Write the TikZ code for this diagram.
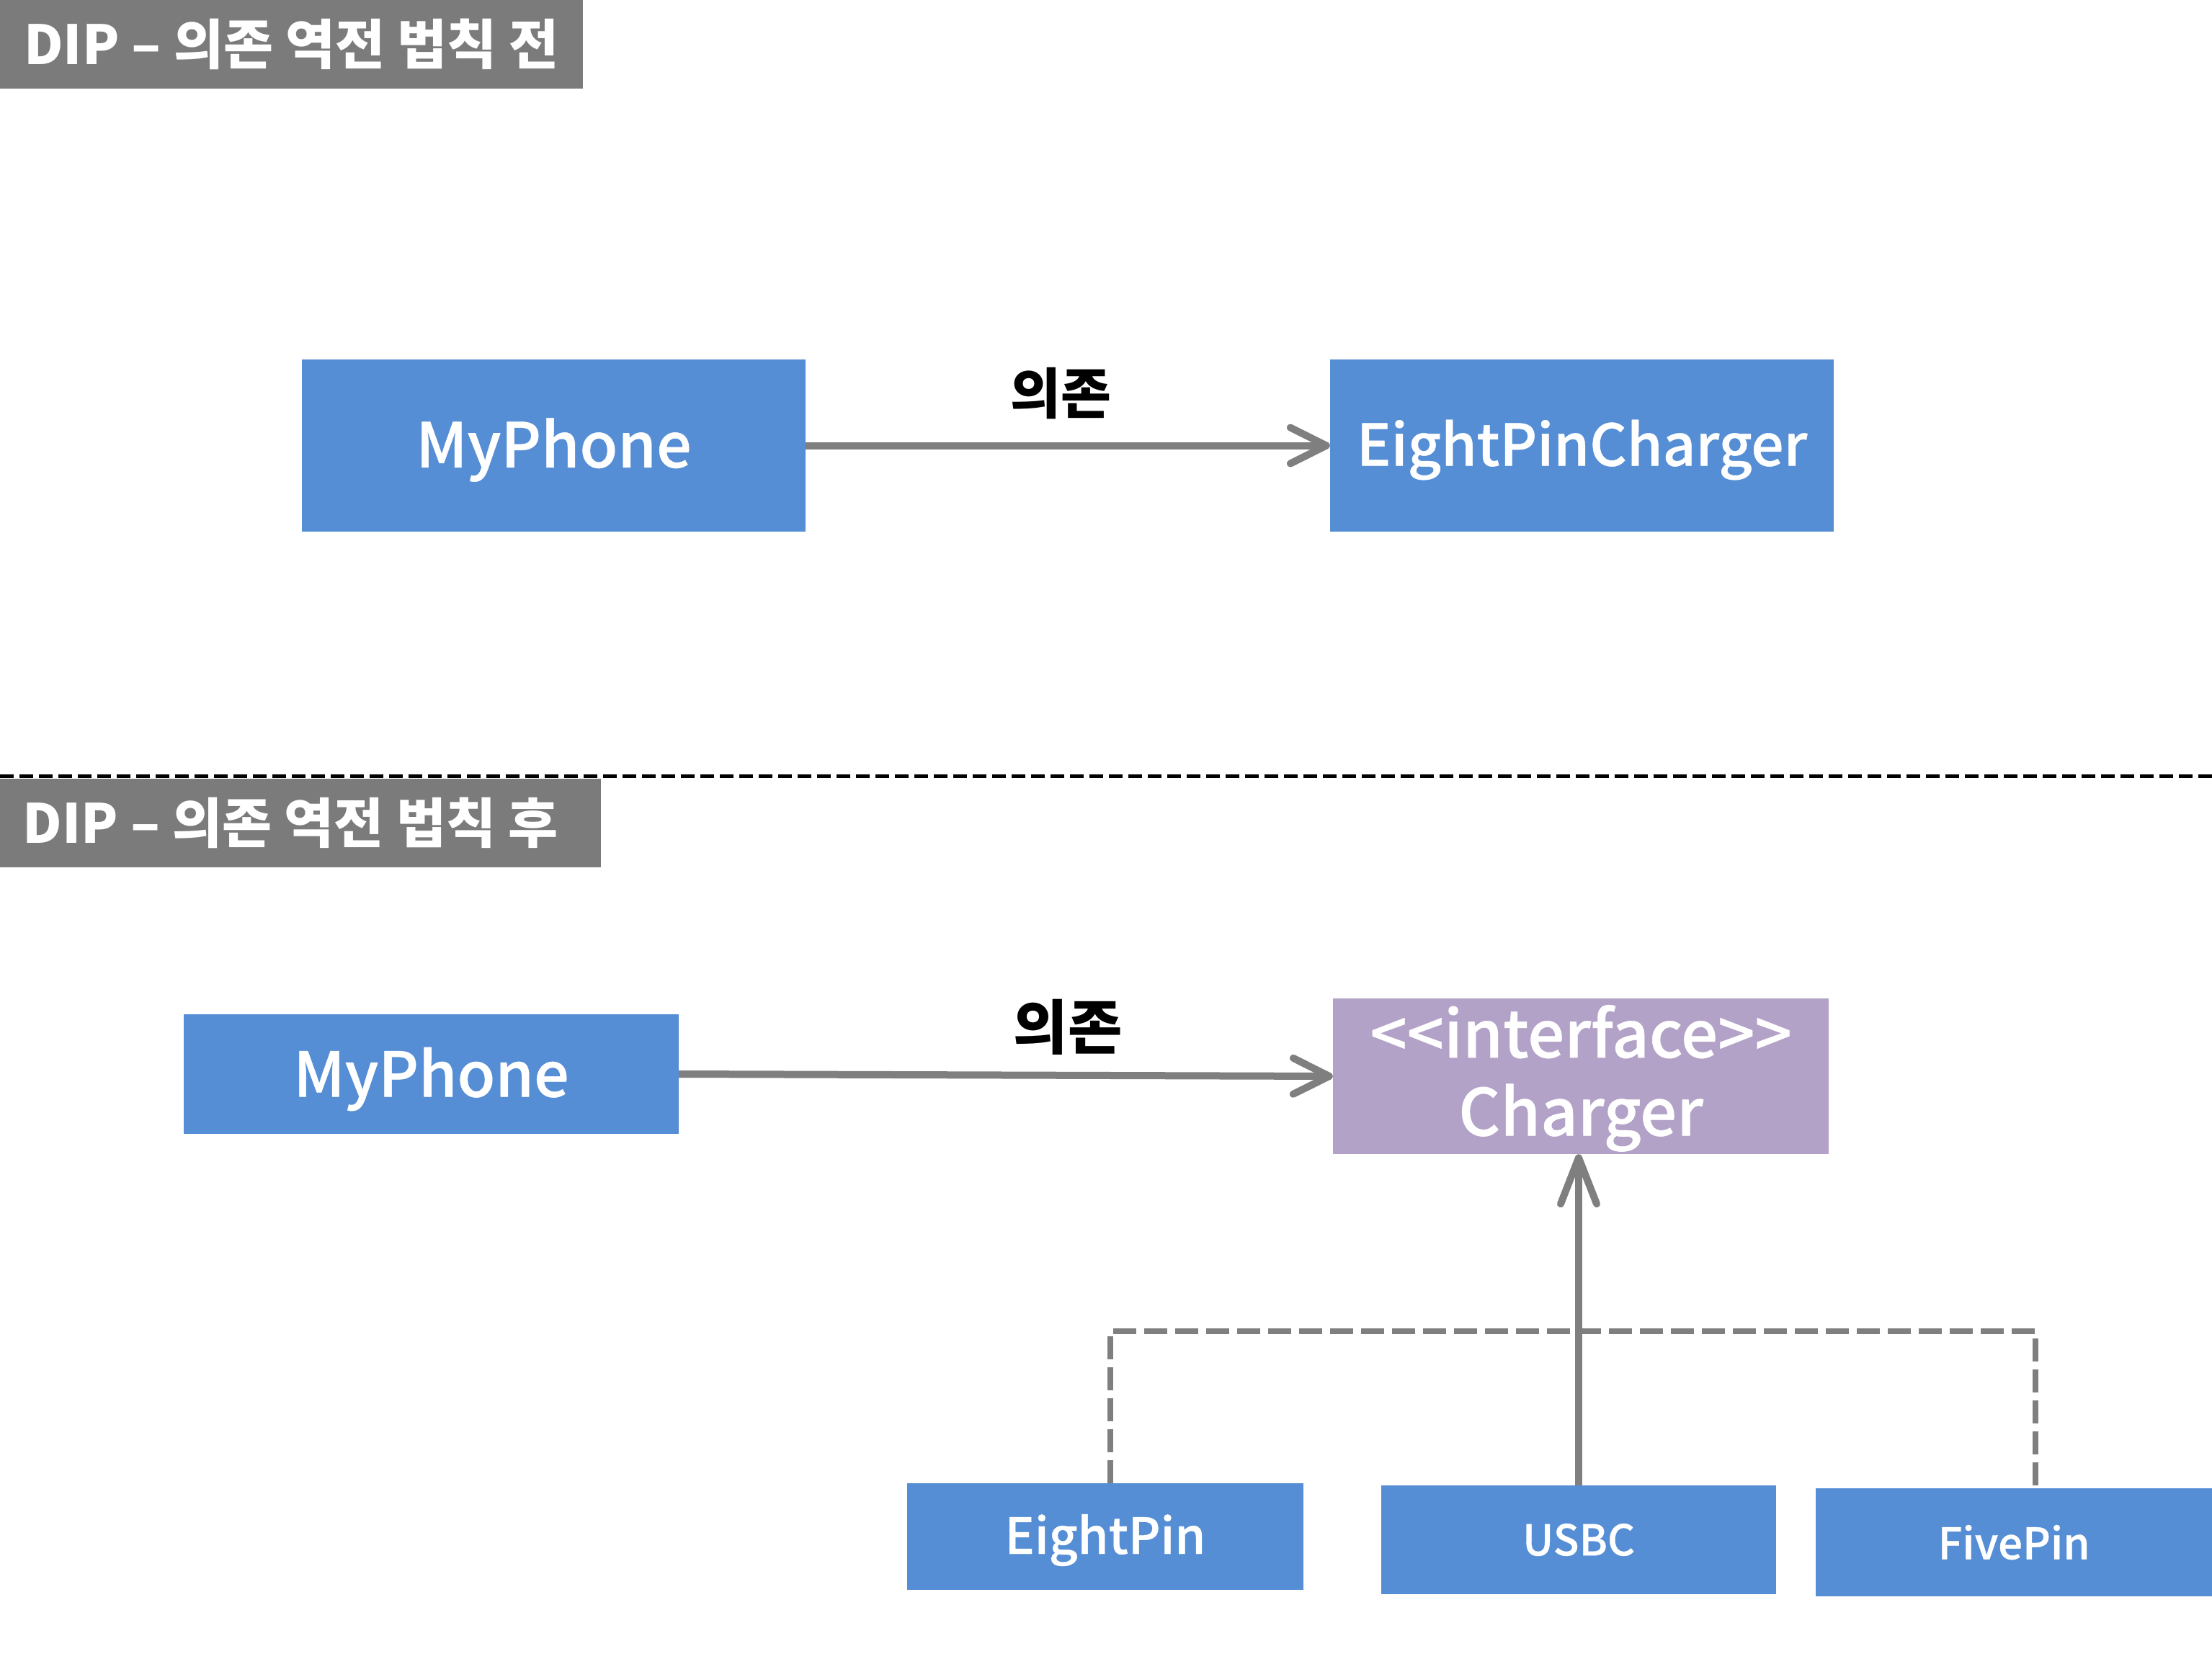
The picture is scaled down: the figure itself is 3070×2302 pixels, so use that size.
\documentclass[tikz,border=0pt]{standalone}
\usepackage{fontspec}
\setmainfont{Noto Sans CJK KR}
\newfontfamily\medfont[FakeBold=0.6]{Noto Sans CJK KR Medium}
\usetikzlibrary{arrows.meta}
\definecolor{boxblue}{RGB}{85,142,213}
\definecolor{boxpurple}{RGB}{179,162,199}
\definecolor{titlegray}{RGB}{123,123,123}
\definecolor{linegray}{RGB}{127,127,127}
\newcommand{\lowertext}[2]{\raisebox{-#1}[\height][\depth]{#2}}
\tikzset{
  titlebox/.style={fill=titlegray, text=white, inner sep=0pt, font=\fontsize{75}{84}\selectfont\bfseries},
  clsbox/.style={fill=boxblue, text=white, inner sep=0pt, align=center},
  ifbox/.style={fill=boxpurple, text=white, inner sep=0pt, align=center, font=\fontsize{90}{102}\medfont},
  deparrow/.style={draw=linegray, line width=10pt, -{Straight Barb[length=50pt,width=50pt,line cap=round,line join=round]}},
  uparrow/.style={draw=linegray, line width=10pt, -{Straight Barb[length=64pt,width=50pt,line cap=round,line join=round]}},
  implline/.style={draw=linegray, line width=8pt, dash pattern=on 32pt off 11pt},
  deplabel/.style={text=black, font=\fontsize{76}{90}\selectfont\bfseries},
}
\begin{document}
\begin{tikzpicture}[x=1pt,y=-1pt]
\useasboundingbox (0,0) rectangle (3070,2302);
\fill[white] (0,0) rectangle (3070,2302);
% titles
\node[titlebox, minimum width=809pt, minimum height=123pt] (t1) at (404.5,61.5) {DIP -- 의존 역전 법칙 전};
\node[titlebox, minimum width=834pt, minimum height=123pt] (t2) at (417,1142.5) {DIP -- 의존 역전 법칙 후\hspace*{28pt}};
% separator
\coordinate (sepL) at (0,1077);
\coordinate (sepR) at (3070,1077);
\draw[black, line width=5pt, dash pattern=on 19pt off 8pt] (sepL) -- (sepR);
% before
\node[clsbox, minimum width=699pt, minimum height=239pt, font=\fontsize{86}{100}\medfont] (mp1) at (768.5,618.5) {\lowertext{6pt}{MyPhone}};
\node[clsbox, minimum width=699pt, minimum height=239pt, font=\fontsize{80}{100}\medfont] (epc) at (2195.5,618.5) {\lowertext{6pt}{EightPinCharger}};
\draw[deparrow] (mp1.east) -- (epc.west);
\node[deplabel] (l1) at (1472,546) {의존};
% after
\node[clsbox, minimum width=687pt, minimum height=166pt, font=\fontsize{86}{100}\medfont] (mp2) at (598.5,1491) {\lowertext{7pt}{MyPhone}};
\node[ifbox, minimum width=688pt, minimum height=216pt] (chg) at (2194,1494) {\lowertext{7pt}{\begin{tabular}{@{}c@{}}<\kern0pt<interface>\kern0pt>\\[6pt]Charger\end{tabular}}};
\draw[deparrow] (mp2.east) -- (chg.west);
\node[deplabel, font=\fontsize{82}{90}\selectfont\bfseries] (l2) at (1482,1426) {의존};
\node[clsbox, minimum width=550pt, minimum height=148pt, font=\fontsize{69}{80}\medfont] (ep) at (1534,2133) {\lowertext{5pt}{EightPin}};
\node[clsbox, minimum width=548pt, minimum height=151pt, font=\fontsize{59}{70}\medfont] (usbc) at (2191,2137.5) {USBC};
\node[clsbox, minimum width=550pt, minimum height=150pt, font=\fontsize{60}{72}\medfont] (fp) at (2795,2141) {FivePin};
\coordinate (bus) at (0,1848);
\coordinate (fpjoin) at (2825,2066);
\draw[implline] (ep.north -| 1541,0) -- (bus -| 1541,0) -- (bus -| fpjoin) -- (fpjoin);
\draw[uparrow] (usbc.north) -- (usbc.north |- chg.south);
\end{tikzpicture}
\end{document}
